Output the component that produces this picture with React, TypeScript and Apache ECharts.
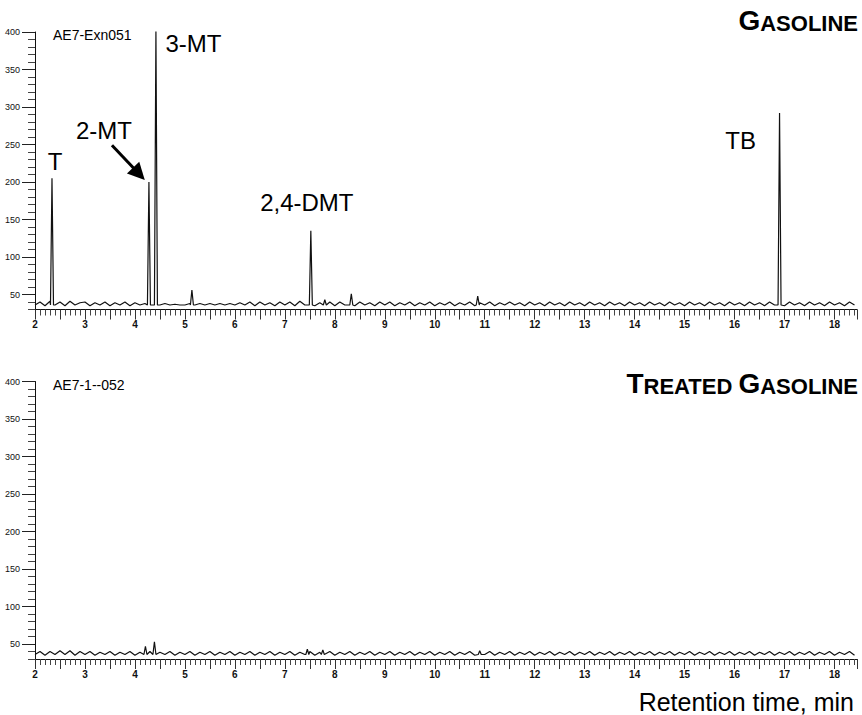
import React, { useEffect, useRef } from "react";
import * as echarts from "echarts";

// Sampling grid of the baseline trace (minutes)
const SAMPLE_START = 2.0;
const SAMPLE_STEP = 0.1;
const PEAK_FOOT = 36;

// Gasoline trace: baseline readings every 0.1 min from 2.0 to 18.4
const gasolineBaseline = [
  36, 40, 35, 41, 36, 40, 35, 41, 36, 39,
  40, 35, 39, 36, 40, 35, 39, 36, 40, 35,
  39, 36, 38, 36, 39, 36, 38, 36, 37, 36,
  36, 38, 36, 38, 36, 38, 36, 38, 36, 38,
  36, 39, 36, 40, 35, 40, 36, 39, 35, 40,
  36, 40, 35, 41, 36, 40, 35, 39, 36, 40,
  35, 40, 36, 39, 35, 40, 36, 39, 35, 40,
  36, 40, 35, 39, 36, 40, 35, 39, 36, 40,
  35, 39, 36, 40, 35, 39, 36, 40, 35, 39,
  36, 40, 35, 39, 36, 40, 36, 39, 35, 40,
  36, 39, 35, 40, 36, 39, 35, 40, 36, 39,
  35, 40, 36, 39, 35, 40, 36, 39, 35, 40,
  36, 39, 35, 40, 36, 39, 35, 40, 36, 39,
  35, 40, 36, 39, 35, 40, 36, 39, 35, 40,
  36, 39, 35, 40, 36, 39, 35, 40, 36, 39,
  35, 40, 36, 39, 35, 40, 36, 39, 35, 40,
  36, 39, 35, 40, 36,
];
const gasolinePeakTimes = [2.34, 4.28, 4.42, 5.14, 7.52, 7.8, 8.33, 10.86, 16.9];
const gasolinePeakHeights = [205, 200, 402, 56, 135, 43, 51, 48, 292];

// Treated gasoline trace
const treatedBaseline = [
  36, 40, 35, 40, 36, 41, 36, 41, 35, 40,
  36, 40, 35, 39, 36, 40, 35, 39, 36, 40,
  35, 39, 36, 40, 35, 39, 36, 40, 35, 39,
  36, 40, 35, 39, 36, 40, 35, 39, 36, 40,
  35, 39, 36, 40, 35, 39, 36, 40, 35, 39,
  36, 40, 35, 39, 36, 40, 35, 39, 36, 40,
  35, 39, 36, 40, 35, 39, 36, 40, 35, 39,
  36, 40, 35, 39, 36, 40, 35, 39, 36, 40,
  35, 39, 36, 40, 35, 39, 36, 40, 35, 39,
  36, 40, 35, 39, 36, 40, 35, 39, 36, 40,
  35, 39, 36, 40, 35, 39, 36, 40, 35, 39,
  36, 40, 35, 39, 36, 40, 35, 39, 36, 40,
  35, 39, 36, 40, 35, 39, 36, 40, 35, 39,
  36, 40, 35, 39, 36, 40, 35, 39, 36, 40,
  35, 39, 36, 40, 35, 39, 36, 40, 35, 39,
  36, 40, 35, 39, 36, 40, 35, 39, 36, 40,
  35, 39, 36, 40, 35,
];
const treatedPeakTimes = [4.21, 4.39, 7.45, 7.76, 10.9];
const treatedPeakHeights = [47, 53, 43, 42, 41];

// Axis settings
const X_MIN = 2;
const X_MAX = 18.45;
const Y_MIN = 30;
const Y_MAX = 400;
const yMajorTicks = [50, 100, 150, 200, 250, 300, 350, 400];

// Peak annotations (name, retention time, signal position)
const peakLabelNames = ["T", "2-MT", "3-MT", "2,4-DMT", "TB"];
const peakLabelTimes = [2.4, 3.38, 5.17, 7.44, 16.12];
const peakLabelValues = [227, 269, 385, 173, 256];

// Arrow pointing to 2-MT: start and end (time, signal)
const arrowStart = [3.54, 249];
const arrowEnd = [4.08, 211];

const FONT = "'Liberation Sans', Arial, Helvetica, sans-serif";

function buildTrace(base: number[], peakT: number[], peakH: number[]) {
  const pts: number[][] = [];
  base.forEach((v, i) => {
    const t = +(SAMPLE_START + i * SAMPLE_STEP).toFixed(2);
    if (peakT.some((p) => Math.abs(p - t) < 0.04)) return;
    pts.push([t, v]);
  });
  peakT.forEach((t, j) => {
    pts.push([t - 0.03, PEAK_FOOT], [t, peakH[j]], [t + 0.03, PEAK_FOOT]);
  });
  pts.sort((a, b) => a[0] - b[0]);
  return pts;
}

function xAxisCfg(gridIndex: number) {
  return {
    type: "value",
    gridIndex,
    min: X_MIN,
    max: X_MAX,
    interval: 0.5,
    axisLine: { show: true, onZero: false, lineStyle: { color: "#111", width: 1 } },
    axisTick: { show: true, length: 10, lineStyle: { color: "#333", width: 1 } },
    minorTick: { show: true, splitNumber: 5, length: 6, lineStyle: { color: "#444", width: 1 } },
    splitLine: { show: false },
    minorSplitLine: { show: false },
    axisLabel: {
      show: true,
      margin: 10,
      fontSize: 10,
      fontWeight: "bold",
      color: "#111",
      fontFamily: FONT,
      showMaxLabel: false,
      formatter: (v: number) => (Math.abs(v - Math.round(v)) < 1e-6 ? String(Math.round(v)) : ""),
    },
  };
}

function yAxisMain(gridIndex: number) {
  return {
    type: "value",
    gridIndex,
    min: Y_MIN,
    max: Y_MAX,
    interval: 10,
    axisLine: { show: true, onZero: false, lineStyle: { color: "#111", width: 1 } },
    axisTick: { show: true, length: 7, lineStyle: { color: "#444", width: 1 } },
    splitLine: { show: false },
    axisLabel: {
      show: true,
      margin: 15,
      fontSize: 9,
      color: "#111",
      fontFamily: FONT,
      formatter: (v: number) => (v % 50 === 0 ? String(v) : ""),
    },
  };
}

function yAxisMajor(gridIndex: number) {
  return {
    type: "value",
    gridIndex,
    min: Y_MIN,
    max: Y_MAX,
    interval: 10,
    axisLine: { show: false },
    axisTick: { show: true, length: 13, customValues: yMajorTicks, lineStyle: { color: "#222", width: 1 } },
    splitLine: { show: false },
    axisLabel: { show: false },
  };
}

function hiddenX(gridIndex: number) {
  return {
    type: "value",
    gridIndex,
    min: X_MIN,
    max: X_MAX,
    show: false,
    splitLine: { show: false },
  };
}

const bigCap = { fontSize: 28, fontWeight: "bold", fontFamily: FONT, verticalAlign: "bottom", fill: "#000" };
const smallCap = { fontSize: 22, fontWeight: "bold", fontFamily: FONT, verticalAlign: "bottom", fill: "#000" };

export default function App() {
  const ref = useRef<HTMLDivElement>(null);

  useEffect(() => {
    if (!ref.current) return;
    const chart = echarts.init(ref.current, undefined, { renderer: "svg" });

    const gasoline = buildTrace(gasolineBaseline, gasolinePeakTimes, gasolinePeakHeights);
    const treated = buildTrace(treatedBaseline, treatedPeakTimes, treatedPeakHeights);

    const topGrid = { left: 35, top: 32, right: 5, height: 277.5 };
    const botGrid = { left: 35, top: 381.5, right: 5, height: 277.5 };

    const traceLine = { color: "#111", width: 1.2 };

    const option: any = {
      animation: false,
      backgroundColor: "#ffffff",
      textStyle: { fontFamily: FONT },
      grid: [topGrid, { ...topGrid }, botGrid, { ...botGrid }],
      xAxis: [xAxisCfg(0), hiddenX(1), xAxisCfg(2), hiddenX(3)],
      yAxis: [yAxisMain(0), yAxisMajor(1), yAxisMain(2), yAxisMajor(3)],
      series: [
        {
          name: "Gasoline",
          type: "line",
          xAxisIndex: 0,
          yAxisIndex: 0,
          data: gasoline,
          showSymbol: false,
          symbol: "none",
          clip: true,
          lineStyle: traceLine,
          markPoint: {
            silent: true,
            symbol: "circle",
            symbolSize: 1,
            itemStyle: { color: "transparent" },
            label: {
              show: true,
              position: "inside",
              formatter: "{b}",
              fontSize: 24,
              color: "#000",
              fontFamily: FONT,
            },
            data: peakLabelNames.map((n, i) => ({
              name: n,
              coord: [peakLabelTimes[i], peakLabelValues[i]],
            })),
          },
          markLine: {
            silent: true,
            symbol: ["none", "triangle"],
            symbolSize: 16,
            lineStyle: { color: "#000", width: 3, type: "solid" },
            itemStyle: { color: "#000" },
            label: { show: false },
            emphasis: { disabled: true },
            data: [
              [
                { coord: arrowStart, symbol: "none" },
                { coord: arrowEnd, symbol: "triangle", symbolSize: 17, itemStyle: { color: "#000" } },
              ],
            ],
          },
        },
        {
          name: "Treated gasoline",
          type: "line",
          xAxisIndex: 2,
          yAxisIndex: 2,
          data: treated,
          showSymbol: false,
          symbol: "none",
          clip: true,
          lineStyle: traceLine,
        },
      ],
      graphic: [
        {
          type: "text",
          x: 53,
          y: 35,
          style: { text: "AE7-Exn051", fontSize: 14, fontFamily: FONT, fill: "#000", verticalAlign: "middle" },
        },
        {
          type: "text",
          x: 53,
          y: 385,
          style: { text: "AE7-1--052", fontSize: 14, fontFamily: FONT, fill: "#000", verticalAlign: "middle" },
        },
        {
          type: "text",
          x: 858,
          y: 34,
          style: {
            text: "{a|G}{b|ASOLINE}",
            align: "right",
            verticalAlign: "bottom",
            fill: "#000",
            rich: { a: bigCap, b: smallCap },
          },
        },
        {
          type: "text",
          x: 858,
          y: 397,
          style: {
            text: "{a|T}{b|REATED }{a|G}{b|ASOLINE}",
            align: "right",
            verticalAlign: "bottom",
            fill: "#000",
            rich: { a: bigCap, b: smallCap },
          },
        },
        {
          type: "text",
          x: 854,
          y: 702,
          style: {
            text: "Retention time, min",
            fontSize: 25,
            fontFamily: FONT,
            fill: "#000",
            align: "right",
            verticalAlign: "middle",
          },
        },
      ],
    };

    chart.setOption(option);
    return () => chart.dispose();
  }, []);

  return (
    <div
      ref={ref}
      style={{ position: "fixed", left: 0, top: 0, width: 862, height: 715, background: "#fff" }}
    />
  );
}
